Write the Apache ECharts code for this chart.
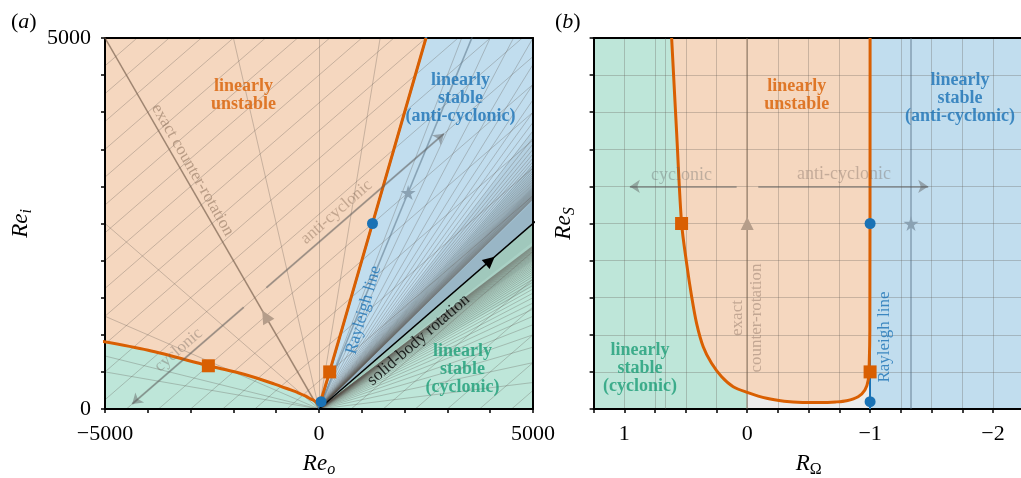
<!DOCTYPE html>
<html>
<head>
<meta charset="utf-8">
<title>Stability map</title>
<script src="https://cdn.jsdelivr.net/npm/echarts@6.0.0/dist/echarts.min.js"></script>
<style>
  html, body { margin: 0; padding: 0; background: #fff; }
  #main { width: 1021px; height: 478px; }
</style>
</head>
<body>
<div id="main"></div>
<script>
// panel (b): critical curve, R_Omega against Re_S
const curveR   = [0.615, 0.574, 0.534, 0.493, 0.452, 0.412, 0.358, 0.290, 0.208, 0.114, 0, -0.158, -0.30, -0.45, -0.60, -0.72, -0.809, -0.903, -0.958, -0.985, -0.993, -0.998, -1];
const curveReS = [5000, 3715, 2503, 1963, 1514, 1155, 840, 616, 435, 301, 225, 144, 105, 88, 86, 95, 112, 166, 256, 391, 616, 1065, 5000];

// markers as [R_Omega, Re_S]
const squares   = [[0.534, 2500], [-1, 500]];
const dots      = [[-1, 2500], [-1, 98]];
const triangles = [[0, 2500]];
const stars     = [[-1.333, 2500]];
const solidBodyArrow = [4000, 2000];   // panel (a), [Re_o, Re_i]

// rotation-direction arrows at Re_S = 3000
const arrowReS      = 3000;
const cyclonicR     = [0.086, 0.955];
const antiCyclonicR = [-0.09, -1.473];

// special grid lines
const counterRotationR = 0;
const starLineR  = -1.333;
const extraGridR = [2 / 3];

// tick labels
const aLabelsX = [-5000, 0, 5000];
const aLabelsY = [0, 5000];
const bLabelsX = [1, 0, -1, -2];

const FONT = "'Liberation Serif', 'Times New Roman', serif";
const ORANGE = '#d95f02', GREEN = '#1b9e77', BLUE = '#1a72b5';
const FILL_O = '#f5d7bf', FILL_G = '#bee6d9', FILL_B = '#c1ddee', FILL_GRAY = '#ececec';
const GRID_LINE = 'rgba(100,92,85,0.3)';
const GRID_A = 'rgba(95,88,82,0.34)';
const ARROW_GRAY = 'rgba(90,92,92,0.45)';

// (R_Omega, Re_S) -> (Re_o, Re_i) for radius ratio 0.5
const toA = (R, S) => R < 1
  ? [-(2 * R + 1) * S / 2, (1 - R) * S / 2]
  : [(2 * R + 1) * S / 2, (R - 1) * S / 2];
// ray through the origin with slope s = Re_i / Re_o (right half plane)
const slopePt = s => [20000, 20000 * s];

const fmt = v => v < 0 ? '\u2212' + (-v) : String(v);

const chart = echarts.init(document.getElementById('main'));

function poly(xi, yi, pts, fill, z) {
  return {
    type: 'custom', xAxisIndex: xi, yAxisIndex: yi, clip: true, silent: true, z: z || 1,
    data: [[0, 0]],
    renderItem: (p, api) => ({
      type: 'polygon',
      shape: { points: pts.map(q => api.coord(q)) },
      style: { fill: fill }
    })
  };
}

function segs(xi, yi, list, color, width, z, arrow) {
  return {
    type: 'lines', coordinateSystem: 'cartesian2d', xAxisIndex: xi, yAxisIndex: yi,
    silent: true, clip: true, z: z,
    symbol: arrow ? ['none', 'arrow'] : 'none', symbolSize: 10,
    lineStyle: { color: color, width: width, opacity: 1, curveness: 0 },
    data: list.map(c => ({ coords: c }))
  };
}

function curve(xi, yi, pts, z) {
  return {
    type: 'line', xAxisIndex: xi, yAxisIndex: yi, data: pts, smooth: 0.3, showSymbol: false,
    silent: true, clip: true, z: z, lineStyle: { color: ORANGE, width: 3 }
  };
}

function marks(xi, yi, pts, symbol, size, color, rot) {
  return {
    type: 'scatter', xAxisIndex: xi, yAxisIndex: yi, data: pts, symbol: symbol, symbolSize: size,
    symbolRotate: rot || 0, silent: true, z: 8, itemStyle: { color: color, opacity: 1 }
  };
}

function note(xi, yi, pos, text, o) {
  return {
    type: 'scatter', xAxisIndex: xi, yAxisIndex: yi, data: [pos], symbolSize: 0, silent: true, z: 9,
    label: {
      show: true, position: 'inside', formatter: text, fontFamily: FONT,
      fontSize: o.size || 17, fontWeight: o.bold ? 'bold' : 'normal', color: o.color,
      lineHeight: o.lh || 18, rotate: o.rot || 0, align: 'center', verticalAlign: 'middle'
    }
  };
}

// panel (a) coordinate grid: rays of constant R_Omega, lines of constant Re_S
const rStep = 0.25;
const rays = [];
for (let k = -48; k <= 48; k++) {
  const R = k * rStep;
  if (R === 1) continue;
  rays.push([[0, 0], toA(R, 40000)]);
}
extraGridR.forEach(R => rays.push([[0, 0], toA(R, 40000)]));
const sLines = [];
for (let S = 500; S <= 10000; S += 500) {
  sLines.push([toA(0.9999999, S), toA(-60, S)]);
  if (S <= 3500) sLines.push([toA(1, S), toA(60, S)]);
}

// shading that stands for the crowded rays next to solid-body rotation
const blueShade = [0.56, 0.6, 0.66, 0.75].map(s => poly(0, 0, [[0, 0], slopePt(0.5), slopePt(s)], 'rgba(100,128,150,0.13)', 1.5));
const greenShade = [0.45, 0.4, 0.33].map(s => poly(0, 0, [[0, 0], slopePt(0.5), slopePt(s)], 'rgba(90,130,115,0.1)', 1.5));

const curveA = curveR.map((R, i) => toA(R, curveReS[i]));
const curveB = curveR.map((R, i) => [R, curveReS[i]]);

const axisLine = { onZero: false, lineStyle: { color: '#000', width: 2 } };
const tick = { show: true, length: 4, lineStyle: { color: '#000', width: 1.5 } };
const labelStyle = { fontFamily: FONT, fontSize: 22, color: '#000' };
const nameStyle = {
  fontFamily: FONT, fontSize: 22, color: '#000',
  rich: {
    i: { fontFamily: FONT, fontSize: 23, fontStyle: 'italic', color: '#000' },
    s: { fontFamily: FONT, fontSize: 16, fontStyle: 'italic', color: '#000', padding: [12, 0, 0, 0] },
    u: { fontFamily: FONT, fontSize: 16, color: '#000', padding: [12, 0, 0, 0] }
  }
};
const frame = (gi, pos) => ({
  gridIndex: gi, type: 'value', position: pos, z: 3,
  axisLine: axisLine, axisTick: { show: false }, axisLabel: { show: false }, splitLine: { show: false }
});

const series = [
  // panel (a) regions
  poly(0, 0, [[-5000, 0], [5000, 0], [5000, 5000], [-5000, 5000]], FILL_G),
  poly(0, 0, [[0, 0], toA(-1, 5000), [5000, 5000], [5000, 2500]], FILL_B),
  ...blueShade,
  ...greenShade,
  poly(0, 0, curveA.concat([[-6000, 5000]]), FILL_O),
  segs(0, 0, rays, GRID_A, 0.9, 2),
  segs(0, 0, sLines, GRID_A, 0.9, 2),
  segs(0, 0, [[[0, 0], toA(counterRotationR, 40000)]], 'rgba(120,95,75,0.55)', 1.6, 4),
  segs(0, 0, [[[0, 0], toA(starLineR, 40000)]], 'rgba(80,105,125,0.5)', 1.6, 4),
  segs(0, 0, [[[0, 0], toA(-1, 10000)]], BLUE, 2, 4),
  segs(0, 0, [[[0, 0], [10000, 5000]]], '#000', 1.6, 5),
  curve(0, 0, curveA, 6),
  segs(0, 0, [[toA(cyclonicR[0], arrowReS), toA(cyclonicR[1], arrowReS)],
              [toA(antiCyclonicR[0], arrowReS), toA(antiCyclonicR[1], arrowReS)]], ARROW_GRAY, 2, 7, true),
  marks(0, 0, squares.map(p => toA(p[0], p[1])), 'rect', 13, ORANGE),
  marks(0, 0, dots.map(p => toA(p[0], p[1])), 'circle', 11, BLUE),
  marks(0, 0, triangles.map(p => toA(p[0], p[1])), 'triangle', 13, '#b59d8a', 30),
  marks(0, 0, stars.map(p => toA(p[0], p[1])), 'path://M50,0 L61,35 L98,35 L68,57 L79,91 L50,70 L21,91 L32,57 L2,35 L39,35 Z', 15, '#8aa2b3'),
  marks(0, 0, [solidBodyArrow], 'triangle', 12, '#000', -49),

  // panel (b) regions
  poly(2, 2, [[1.25, 0], [0, 0], [0, 5000], [1.25, 5000]], FILL_G),
  poly(2, 2, [[0, 0], [-1, 0], [-1, 5000], [0, 5000]], FILL_GRAY),
  poly(2, 2, [[-1, 0], [-2.25, 0], [-2.25, 5000], [-1, 5000]], FILL_B),
  poly(2, 2, curveB, FILL_O),
  segs(2, 2, extraGridR.map(R => [[R, 0], [R, 5000]]), GRID_LINE, 1, 4),
  segs(2, 2, [[[counterRotationR, 0], [counterRotationR, 5000]]], 'rgba(120,95,75,0.5)', 1.6, 4),
  segs(2, 2, [[[starLineR, 0], [starLineR, 5000]]], 'rgba(80,105,125,0.5)', 1.6, 4),
  segs(2, 2, [[[-1, 0], [-1, 5000]]], BLUE, 2, 4),
  curve(2, 2, curveB, 6),
  segs(2, 2, [[[cyclonicR[0], arrowReS], [cyclonicR[1], arrowReS]],
              [[antiCyclonicR[0], arrowReS], [antiCyclonicR[1], arrowReS]]], ARROW_GRAY, 2, 7, true),
  marks(2, 2, squares, 'rect', 13, ORANGE),
  marks(2, 2, dots, 'circle', 11, BLUE),
  marks(2, 2, triangles, 'triangle', 13, '#b59d8a'),
  marks(2, 2, stars, 'path://M50,0 L61,35 L98,35 L68,57 L79,91 L50,70 L21,91 L32,57 L2,35 L39,35 Z', 15, '#8aa2b3'),

  // annotations, panel (a)
  note(0, 0, [-1762, 4232], 'linearly\nunstable', { color: ORANGE, bold: true, size: 18 }),
  note(0, 0, [3308, 4191], 'linearly\nstable\n(anti-cyclonic)', { color: BLUE, bold: true, size: 18 }),
  note(0, 0, [3355, 539], 'linearly\nstable\n(cyclonic)', { color: GREEN, bold: true, size: 18 }),
  note(0, 0, [-2953, 3221], 'exact counter-rotation', { color: 'rgba(120,92,72,0.6)', rot: -60 }),
  note(0, 0, [411, 2655], 'anti-cyclonic', { color: 'rgba(120,92,72,0.5)', rot: 41 }),
  note(0, 0, [-3280, 795], 'cyclonic', { color: 'rgba(110,100,92,0.5)', rot: 41 }),
  note(0, 0, [1042, 1334], 'Rayleigh line', { color: BLUE, rot: 74 }),
  note(0, 0, [2327, 930], 'solid-body rotation', { color: '#000', rot: 41 }),

  // annotations, panel (b)
  note(2, 2, [-0.404, 4232], 'linearly\nunstable', { color: ORANGE, bold: true, size: 18 }),
  note(2, 2, [-1.731, 4191], 'linearly\nstable\n(anti-cyclonic)', { color: BLUE, bold: true, size: 18 }),
  note(2, 2, [0.873, 553], 'linearly\nstable\n(cyclonic)', { color: GREEN, bold: true, size: 18 }),
  note(2, 2, [0.534, 3154], 'cyclonic', { color: 'rgba(95,100,100,0.45)', size: 18 }),
  note(2, 2, [-0.787, 3167], 'anti-cyclonic', { color: 'rgba(110,95,85,0.45)', size: 18 }),
  note(2, 2, [0, 1226], 'exact\ncounter-rotation', { color: 'rgba(130,105,90,0.55)', rot: 90, lh: 19 }),
  note(2, 2, [-1.12, 970], 'Rayleigh line', { color: BLUE, rot: 90 })
];

const option = {
  animation: false,
  backgroundColor: '#fff',
  title: [
    { text: '({i|a})', left: 6, top: 6, textStyle: { fontFamily: FONT, fontSize: 22, fontWeight: 'normal', color: '#000', rich: { i: { fontFamily: FONT, fontSize: 22, fontStyle: 'italic', color: '#000' } } } },
    { text: '({i|b})', left: 550, top: 6, textStyle: { fontFamily: FONT, fontSize: 22, fontWeight: 'normal', color: '#000', rich: { i: { fontFamily: FONT, fontSize: 22, fontStyle: 'italic', color: '#000' } } } }
  ],
  grid: [
    { left: 105, top: 38, width: 428, height: 371, outerBoundsMode: 'none' },
    { left: 593.6, top: 38, width: 430.1, height: 371, outerBoundsMode: 'none' }
  ],
  xAxis: [
    {
      gridIndex: 0, type: 'value', min: -5000, max: 5000, interval: 1000, position: 'bottom', z: 3,
      axisLine: axisLine, axisTick: tick, splitLine: { show: false },
      axisLabel: Object.assign({ margin: 14, formatter: v => aLabelsX.includes(v) ? fmt(v) : '' }, labelStyle),
      name: '{i|Re}{s|o}', nameLocation: 'middle', nameGap: 41, nameTextStyle: nameStyle
    },
    Object.assign(frame(0, 'top'), { min: -5000, max: 5000 }),
    {
      gridIndex: 1, type: 'value', inverse: true, min: -2.25, max: 1.25, interval: 0.25, position: 'bottom', z: 3,
      axisLine: axisLine, axisTick: tick,
      splitLine: { show: true, lineStyle: { color: GRID_LINE, width: 1 } },
      axisLabel: Object.assign({ margin: 14, formatter: v => bLabelsX.includes(v) ? fmt(v) : '' }, labelStyle),
      name: '{i|R}{u|\u03A9}', nameLocation: 'middle', nameGap: 41, nameTextStyle: nameStyle
    },
    Object.assign(frame(1, 'top'), { min: -2.25, max: 1.25, inverse: true })
  ],
  yAxis: [
    {
      gridIndex: 0, type: 'value', min: 0, max: 5000, interval: 500, position: 'left', z: 3,
      axisLine: axisLine, axisTick: tick, splitLine: { show: false },
      axisLabel: Object.assign({ margin: 14, formatter: v => aLabelsY.includes(v) ? fmt(v) : '' }, labelStyle),
      name: '{i|Re}{s|i}', nameLocation: 'middle', nameGap: 70, nameRotate: 90, nameTextStyle: nameStyle
    },
    Object.assign(frame(0, 'right'), { min: 0, max: 5000 }),
    {
      gridIndex: 1, type: 'value', min: 0, max: 5000, interval: 500, position: 'left', z: 3,
      axisLine: axisLine, axisTick: tick,
      splitLine: { show: true, lineStyle: { color: GRID_LINE, width: 1 } },
      axisLabel: { show: false },
      name: '{i|Re}{s|S}', nameLocation: 'middle', nameGap: 16, nameRotate: 90, nameTextStyle: nameStyle
    }
  ],
  series: series
};

chart.setOption(option);
</script>
</body>
</html>
